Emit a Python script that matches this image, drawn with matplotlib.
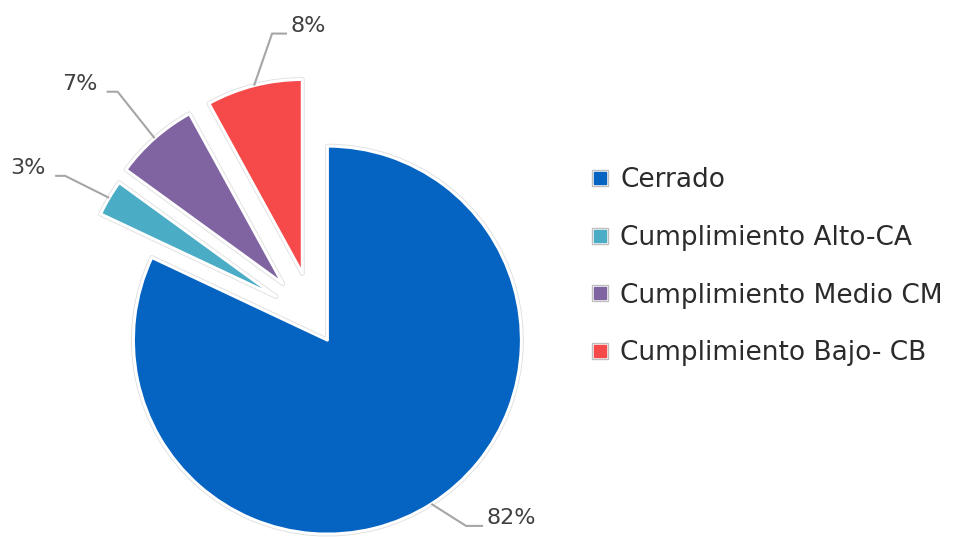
import numpy as np
import matplotlib.pyplot as plt
import matplotlib.patheffects as pe
from matplotlib.lines import Line2D

plt.rcParams['font.family'] = ['DejaVu Sans']

# datos del grafico
categorias = ['Cerrado', 'Cumplimiento Alto-CA', 'Cumplimiento Medio CM', 'Cumplimiento Bajo- CB']
porcentajes = [82, 3, 7, 8]
etiquetas = ['82%', '3%', '7%', '8%']
colores = ['#0563C1', '#4BACC6', '#8064A2', '#F64A4A']

fig = plt.figure(figsize=(9.55, 5.37), dpi=100)
ax = fig.add_axes([0, 0, 1, 1])

# pie en unidades de pixel
radio = 194
wedges, _ = ax.pie(porcentajes, colors=colores, radius=radio, center=(314, 218),
                   startangle=90, counterclock=False,
                   explode=[25, 44, 47, 47],
                   wedgeprops=dict(edgecolor='white', linewidth=2.2, joinstyle='round'))
for w in wedges:
    # borde gris tenue alrededor del blanco
    w.set_path_effects([pe.Stroke(linewidth=3.4, foreground='#dedede', joinstyle='round'),
                        pe.Normal()])
ax.set_xlim(0, 955)
ax.set_ylim(0, 537)
ax.set_aspect('equal')
ax.axis('off')

# lineas guia: (codo dx, codo dy, tramo horizontal, separacion texto)
codos = [(34.7, -22, 17, 3), (-44, 22, -10, -10), (-37, 46.5, -11, -9), (18, 52, 15, 3)]
for w, txt, (cx, cy, hx, gap) in zip(wedges, etiquetas, codos):
    ang = np.deg2rad((w.theta1 + w.theta2) / 2)
    x0 = w.center[0] + w.r * np.cos(ang)
    y0 = w.center[1] + w.r * np.sin(ang)
    x1, y1 = x0 + cx, y0 + cy
    x2 = x1 + hx
    ax.plot([x0, x1, x2], [y0, y1, y1], color='#a6a6a6', lw=1.5, solid_capstyle='butt')
    ax.text(x2 + gap, y1 + 2, txt, ha='left' if hx > 0 else 'right', va='baseline',
            fontsize=16, color='#404040')

# leyenda
handles = [(Line2D([], [], marker='s', ls='none', ms=12, mfc='white', mec='#bfbfbf', mew=1),
            Line2D([], [], marker='s', ls='none', ms=8.5, mfc=c, mec=c))
           for c in colores]
ax.legend(handles, categorias, loc='center left', bbox_to_anchor=(0.619, 0.503),
          frameon=False, fontsize=19, handlelength=0.68, handletextpad=0.42,
          labelspacing=1.2, borderpad=0, borderaxespad=0, labelcolor='#2b2b2b')

fig.savefig('out.png', dpi=100)
